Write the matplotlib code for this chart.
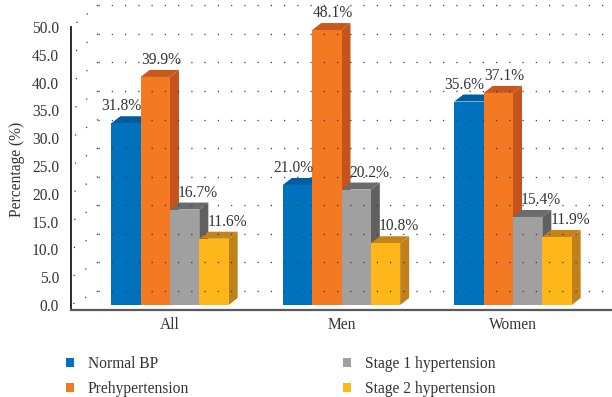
import matplotlib
matplotlib.use("Agg")
import matplotlib.pyplot as plt
from matplotlib.patches import Polygon, Patch
from matplotlib.lines import Line2D
from matplotlib.transforms import IdentityTransform

# ---- data -------------------------------------------------------------
groups = ["All", "Men", "Women"]
series_names = ["Normal BP", "Prehypertension",
                "Stage 1 hypertension", "Stage 2 hypertension"]
normal_bp = [31.8, 21.0, 35.6]
prehypertension = [39.9, 48.1, 37.1]
stage1_hypertension = [16.7, 20.2, 15.4]
stage2_hypertension = [11.6, 10.8, 11.9]
y_ticks = [0, 5, 10, 15, 20, 25, 30, 35, 40, 45, 50]
y_label = "Percentage (%)"

series_values = [normal_bp, prehypertension,
                 stage1_hypertension, stage2_hypertension]

# ---- style ------------------------------------------------------------
front_colors = ["#0071BC", "#F37A23", "#A0A0A1", "#FDB71B"]
top_colors = ["#005E9E", "#C9581D", "#6B6B6B", "#C4841A"]
side_colors = ["#00528A", "#C4541B", "#606060", "#C0801A"]
text_color = "#333333"
label_dx_pt = [-3.2, 4.5, 9.2, 9.8]   # horizontal nudge of value labels

plt.rcParams["font.family"] = ["Liberation Serif", "DejaVu Serif"]
plt.rcParams["font.size"] = 11.2

W, H, DPI = 612, 397, 100
fig = plt.figure(figsize=(W / DPI, H / DPI), dpi=DPI)

# plotting frame in pixels (from the top-left corner of the canvas)
left_px, right_px = 71, 612
floor_px, top_px = 310, 27
zero_px = 305
rect = [left_px / W, 1 - floor_px / H,
        (right_px - left_px) / W, (floor_px - top_px) / H]

cat_px = 171.5                      # pixels per category
first_center_px = 170
xlim = (-0.5 - (first_center_px - 0.5 * cat_px - left_px) / cat_px,
        2.5 + (first_center_px - 0.5 * cat_px - left_px) / cat_px)

# front (axis) plane
front_scale = (zero_px - top_px) / 50.0
ax = fig.add_axes(rect)
ax.set_xlim(*xlim)
ax.set_ylim(-(floor_px - zero_px) / front_scale, 50)
ax.set_facecolor("none")

# bar plane (slightly different projection scale)
bar_scale = 5.716
axb = fig.add_axes(rect, sharex=ax)
axb.set_ylim(-(floor_px - zero_px) / bar_scale, (zero_px - top_px) / bar_scale)
axb.set_facecolor("none")
axb.axis("off")

for s in ["top", "right"]:
    ax.spines[s].set_visible(False)
ax.spines["left"].set_bounds(ax.get_ylim()[0], 50)
ax.spines["left"].set_color("#1a1a1a")
ax.spines["left"].set_linewidth(1.3)
ax.spines["bottom"].set_color("#595959")
ax.spines["bottom"].set_linewidth(1.6)

ax.set_yticks(y_ticks)
ax.set_yticklabels([f"{t:.1f}" for t in y_ticks])
ax.set_xticks(range(len(groups)))
ax.set_xticklabels(groups)
ax.tick_params(axis="y", length=0, pad=8.5, colors=text_color)
ax.tick_params(axis="x", length=0, pad=5, colors=text_color)
ax.set_ylabel(y_label, color=text_color)
ax.yaxis.set_label_coords(-0.085, 0.495)

# ---- dotted walls (side + back) --------------------------------------
wall_dx, wall_dy = 27, 14
dot_style = dict(color="#3a3a3a", linewidth=0.9, linestyle=(0, (1.0, 9.6)),
                 transform=IdentityTransform(), solid_capstyle="butt")
fig.canvas.draw()
for v in y_ticks:
    fx, fy = ax.transData.transform((xlim[0], v))
    bx, by = axb.transData.transform((xlim[0], v))
    bx, by = bx + wall_dx, by + wall_dy
    fig.add_artist(Line2D([bx, fx], [by, fy], **dot_style))
    fig.add_artist(Line2D([bx, bx + 600], [by, by], **dot_style))

# ---- 3-D style bars --------------------------------------------------
n = len(series_values)
group_w = 0.684
bw = group_w / n
depth_x = 9 / cat_px
depth_y = 7 / bar_scale

for gi in range(len(groups)):
    for si, vals in enumerate(series_values):
        h = vals[gi]
        x0 = gi - group_w / 2 + si * bw
        x1 = x0 + bw
        side = Polygon([(x1, 0), (x1 + depth_x, depth_y),
                        (x1 + depth_x, h + depth_y), (x1, h)],
                       closed=True, facecolor=side_colors[si],
                       edgecolor="none", clip_on=False)
        top = Polygon([(x0, h), (x1, h), (x1 + depth_x, h + depth_y),
                       (x0 + depth_x, h + depth_y)],
                      closed=True, facecolor=top_colors[si],
                      edgecolor="none", clip_on=False)
        front = Polygon([(x0, 0), (x1, 0), (x1, h), (x0, h)],
                        closed=True, facecolor=front_colors[si],
                        edgecolor="none", clip_on=False)
        for p in (side, top, front):
            axb.add_patch(p)
        axb.annotate(f"{h:.1f}%", xy=((x0 + x1) / 2, h),
                     xytext=(label_dx_pt[si], 12.2), textcoords="offset points",
                     ha="center", va="center", color=text_color,
                     annotation_clip=False)

# ---- legend ----------------------------------------------------------
handles = [Patch(facecolor=c, edgecolor="none") for c in front_colors]
fig.legend(handles, series_names, ncol=2, frameon=False,
           loc="upper left", bbox_to_anchor=(58 / W, 1 - 348 / H),
           handlelength=0.5, handleheight=0.5, handletextpad=0.9,
           columnspacing=9.9, labelspacing=0.6, borderpad=0,
           labelcolor=text_color)

fig.savefig("out.png", dpi=DPI)
